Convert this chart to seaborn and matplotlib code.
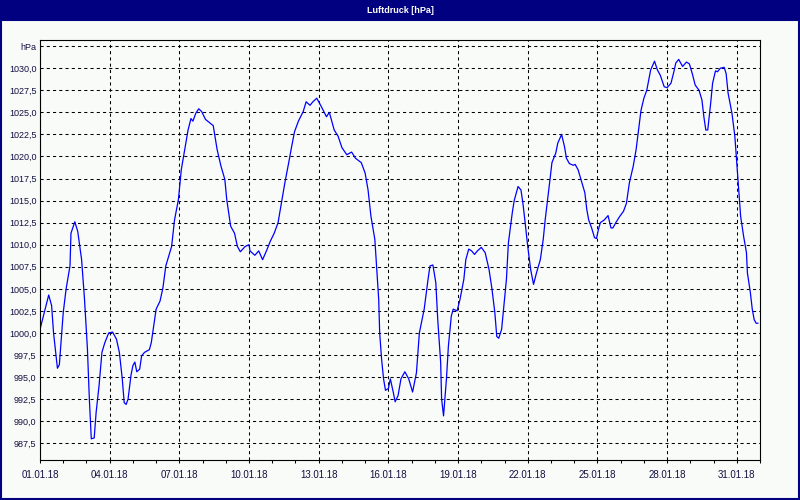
import pandas as pd
import numpy as np
import matplotlib
matplotlib.use('Agg')
import matplotlib.pyplot as plt
import matplotlib.dates as mdates
from matplotlib.patches import Rectangle
import seaborn as sns

# hours since 01.01.18 00:00 and air pressure in hPa
hours = [0, 9, 12, 14, 18, 20, 22, 24, 27, 31, 32, 36, 39, 43, 46, 49, 51, 53, 56, 58,
         61, 64, 67, 71, 75, 79, 82, 85, 87, 89, 91, 94, 96, 98, 100, 103, 105, 108, 113, 115,
         117, 120, 124, 127, 130, 136, 139, 143, 146, 149, 153, 156, 158, 161, 164, 167, 171, 179, 183, 187,
         191, 193, 197, 201, 204, 207, 212, 216, 217, 222, 226, 230, 234, 238, 242, 246, 250, 253, 257, 260,
         263, 267, 272, 275, 279, 282, 286, 290, 296, 299, 301, 304, 308, 312, 317, 322, 326, 332, 336, 339,
         342, 346, 348, 350, 351, 353, 355, 357, 360, 362, 365, 367, 370, 373, 377, 381, 385, 389, 392, 397,
         401, 403, 406, 409, 411, 414, 415, 417, 420, 422, 425, 427, 431, 434, 438, 440, 443, 446, 449, 452,
         456, 460, 464, 467, 470, 472, 474, 477, 479, 482, 484, 488, 490, 494, 497, 499, 501, 504, 507, 510,
         513, 517, 520, 522, 525, 527, 529, 533, 535, 539, 542, 544, 547, 551, 553, 556, 559, 563, 565, 567,
         570, 573, 575, 577, 579, 583, 587, 590, 592, 595, 599, 603, 606, 609, 613, 616, 618, 621, 624, 627,
         631, 635, 638, 641, 645, 648, 652, 655, 657, 660, 664, 668, 671, 674, 677, 681, 684, 686, 688, 690,
         693, 695, 698, 700, 703, 707, 709, 711, 715, 718, 720, 722, 724, 727, 730, 731, 734, 736, 738, 740,
         742]
pressure = [1000.4, 1004.3, 1003.1, 1000.0, 996.0, 996.4, 999.3, 1002.3, 1005.0, 1007.6, 1011.3, 1012.6, 1011.5, 1008.3, 1003.8, 998.2, 992.5, 988.0, 988.1, 991.0,
            994.0, 997.8, 998.9, 1000.0, 1000.1, 999.3, 997.8, 994.8, 992.1, 991.9, 992.5, 995.2, 996.3, 996.7, 995.6, 995.9, 997.4, 997.8, 998.1, 998.9,
            1000.4, 1002.7, 1003.6, 1005.1, 1007.6, 1009.8, 1012.8, 1015.1, 1018.5, 1020.4, 1023.0, 1024.3, 1024.0, 1024.9, 1025.4, 1025.1, 1024.2, 1023.5, 1020.8, 1018.9,
            1017.4, 1015.1, 1012.1, 1011.3, 1009.8, 1009.2, 1009.8, 1010.0, 1009.3, 1008.8, 1009.3, 1008.3, 1009.3, 1010.4, 1011.3, 1012.5, 1015.1, 1017.0, 1019.3, 1021.1,
            1022.8, 1024.0, 1025.1, 1026.2, 1025.8, 1026.2, 1026.6, 1025.8, 1024.5, 1025.0, 1024.2, 1023.0, 1022.3, 1021.0, 1020.2, 1020.5, 1019.8, 1019.3, 1018.1, 1016.2,
            1013.2, 1010.6, 1007.2, 1003.8, 1000.0, 997.0, 994.8, 993.5, 993.7, 994.8, 993.3, 992.2, 992.9, 994.8, 995.6, 994.8, 993.3, 995.5, 1000.0, 1002.7,
            1006.1, 1007.6, 1007.7, 1005.7, 1001.5, 996.7, 992.5, 990.6, 994.8, 998.5, 1001.9, 1002.7, 1002.5, 1003.8, 1006.1, 1008.3, 1009.5, 1009.3, 1008.9, 1009.3,
            1009.7, 1009.1, 1007.2, 1005.0, 1002.3, 999.6, 999.4, 1000.4, 1002.7, 1006.1, 1010.2, 1013.6, 1015.0, 1016.6, 1016.2, 1014.7, 1012.8, 1009.8, 1007.2, 1005.5,
            1006.8, 1008.3, 1010.6, 1012.8, 1015.5, 1017.4, 1019.3, 1020.4, 1021.5, 1022.5, 1021.1, 1019.8, 1019.2, 1019.0, 1019.1, 1018.5, 1017.4, 1015.9, 1014.0, 1012.8,
            1011.9, 1010.8, 1010.7, 1011.7, 1012.5, 1012.8, 1013.3, 1011.9, 1011.9, 1012.5, 1013.2, 1013.8, 1014.7, 1017.0, 1018.9, 1020.8, 1022.6, 1025.2, 1026.6, 1027.5,
            1029.8, 1030.8, 1029.8, 1029.2, 1027.9, 1027.8, 1028.3, 1029.6, 1030.6, 1031.0, 1030.2, 1030.7, 1030.5, 1029.4, 1028.1, 1027.5, 1026.4, 1024.5, 1023.0, 1023.0,
            1026.0, 1028.3, 1029.7, 1029.6, 1030.0, 1030.1, 1029.4, 1027.2, 1024.9, 1022.3, 1019.3, 1016.2, 1013.2, 1011.0, 1009.1, 1006.8, 1004.6, 1002.7, 1001.5, 1001.1,
            1001.1]

x_ticks = ['2018-01-01', '2018-01-04', '2018-01-07', '2018-01-10', '2018-01-13', '2018-01-16',
           '2018-01-19', '2018-01-22', '2018-01-25', '2018-01-28', '2018-01-31']
y_ticks = [987.5, 990.0, 992.5, 995.0, 997.5, 1000.0, 1002.5, 1005.0, 1007.5, 1010.0,
           1012.5, 1015.0, 1017.5, 1020.0, 1022.5, 1025.0, 1027.5, 1030.0, 1032.5]
y_labels = ['987,5', '990,0', '992,5', '995,0', '997,5', '1000,0', '1002,5', '1005,0', '1007,5', '1010,0',
            '1012,5', '1015,0', '1017,5', '1020,0', '1022,5', '1025,0', '1027,5', '1030,0', 'hPa']

df = pd.DataFrame({'Zeit': pd.Timestamp('2018-01-01') + pd.to_timedelta(hours, unit='h'),
                   'Luftdruck': pressure})

sns.set_style('white')
plt.rcParams['font.family'] = ['Liberation Sans', 'DejaVu Sans']
bg = '#f9fbf9'
navy = '#000080'
txt = '#101040'

fig = plt.figure(figsize=(8, 5), dpi=100, facecolor=bg)
ax = fig.add_axes([0.05, 0.08, 0.9, 0.84])
ax.set_facecolor(bg)

sns.lineplot(data=df, x='Zeit', y='Luftdruck', ax=ax, color='#0000ff', linewidth=0.9)

ax.set_xlim(pd.Timestamp('2018-01-01'), pd.Timestamp('2018-02-01'))
ax.set_ylim(985.6, 1033.2)
ax.set_yticks(y_ticks)
ax.set_yticklabels(y_labels)
ax.set_xticks(pd.to_datetime(x_ticks))
ax.xaxis.set_minor_locator(mdates.DayLocator())
ax.xaxis.set_major_formatter(mdates.DateFormatter('%d.%m.%y'))
ax.set_xlabel('')
ax.set_ylabel('')

ax.grid(True, which='major', color='black', linestyle=(0, (3, 3)), linewidth=0.75)
ax.tick_params(axis='x', which='both', direction='out', length=2.2, width=0.75, color='black',
               labelsize=7, labelcolor=txt, pad=5, bottom=True)
ax.tick_params(axis='y', length=0, labelsize=6.5, labelcolor=txt, pad=2.5)
for s in ax.spines.values():
    s.set_color('black')
    s.set_linewidth(0.8)

# title bar and window frame
bar_h = 21 / 500
fig.patches.append(Rectangle((0, 1 - bar_h), 1, bar_h, transform=fig.transFigure,
                             facecolor=navy, edgecolor='none', zorder=0))
fig.patches.append(Rectangle((0.0015, 0.003), 0.997, 1 - bar_h, transform=fig.transFigure,
                             facecolor='none', edgecolor=navy, linewidth=1.5, zorder=0))
fig.text(0.5, 1 - bar_h / 2, 'Luftdruck [hPa]', color='white', fontweight='bold',
         fontsize=6.5, ha='center', va='center')

fig.savefig('out.png', dpi=100, facecolor=bg)
